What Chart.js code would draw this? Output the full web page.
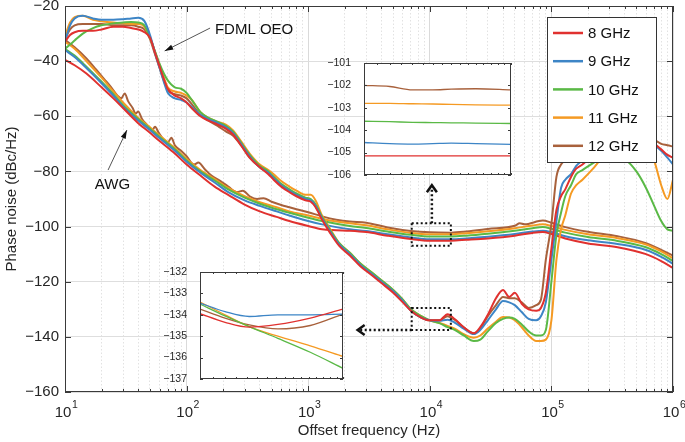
<!DOCTYPE html>
<html>
<head>
<meta charset="utf-8">
<title>Phase noise</title>
<script src="https://cdn.jsdelivr.net/npm/chart.js@4.4.1/dist/chart.umd.min.js"></script>
<style>
  body { margin: 0; background: #fff; }
  #wrap { position: relative; width: 685px; height: 442px; }
  canvas { position: absolute; }
</style>
</head>
<body>
<div id="wrap">
  <canvas id="main" width="685" height="442" style="left:0;top:0"></canvas>
  <canvas id="insetTop" width="190" height="126" style="left:325px;top:56px"></canvas>
  <canvas id="insetBottom" width="188" height="120" style="left:160px;top:265px"></canvas>
</div>
<script>
const FONT = "'Liberation Sans', Arial, Helvetica, sans-serif";
const TEXT = "#262626";

const labels = ["8 GHz", "9 GHz", "10 GHz", "11 GHz", "12 GHz"];
const colors = ["#e0312f", "#3d85c6", "#5ab946", "#f59a23", "#a8613c"];

// FDML OEO
const oeoFreq = [
  10, 11, 12, 14, 17, 20, 25, 30, 35, 40,
  45, 50, 55, 60, 65, 70, 80, 90, 100, 110,
  130, 150, 180, 210, 240, 280, 330, 400, 470, 520,
  600, 700, 800, 950, 1050, 1150, 1300, 1500, 1800, 2200,
  2700, 3300, 4000, 5000, 6000, 7000, 8500, 1e4, 1.2e4, 1.4e4,
  1.6e4, 1.9e4, 2.3e4, 2.6e4, 3e4, 3.5e4, 4e4, 4.5e4, 5e4, 5.7e4,
  6.5e4, 7.5e4, 8.2e4, 9e4, 1e5, 1.1e5, 1.2e5, 1.3e5, 1.45e5, 1.6e5,
  1.8e5, 2.2e5, 3e5, 4e5, 5e5, 6e5, 7e5, 8e5, 9e5, 1e6
];
const oeo8 = [
  -33, -30.5, -29.5, -29, -29, -28.5, -27.5, -27.5, -28, -28.5,
  -29.5, -31.5, -37, -42, -46.5, -50, -52.5, -53.5, -55, -57,
  -60, -61.5, -63, -64.5, -66.5, -70.5, -75, -78.5, -81, -83,
  -85.5, -87.5, -89, -90.5, -91, -93, -97.5, -102, -107, -110.5,
  -114.5, -117.5, -120.5, -124, -127.5, -130.5, -133, -134, -134, -131.8,
  -133.5, -136.5, -138.7, -136.5, -132, -126, -123, -125.5, -124, -128,
  -130, -130.5, -129.5, -124, -108, -94, -89, -86.5, -82, -79,
  -77.5, -74, -71, -69, -68.5, -69, -70, -72, -74, -75
];
const oeo9 = [
  -33, -27, -24.5, -23.5, -24.5, -25, -25, -24.8, -24.5, -24.3,
  -25.5, -30.5, -37, -42.5, -47.5, -51.5, -53.5, -54, -55, -56.5,
  -59.5, -61, -62.5, -64, -66, -70, -74.5, -78.5, -80.5, -82.5,
  -85, -87, -88.5, -90, -90.5, -92.5, -97, -101.5, -106.5, -110,
  -114, -117, -120, -123.5, -127, -130.5, -133, -134, -134.2, -133.8,
  -134.8, -137, -139, -137.5, -134, -130, -127, -127.5, -128.5, -131,
  -133.5, -134, -132.5, -127.5, -112, -98, -86, -83, -81, -78,
  -76, -73, -70, -69, -69, -69.5, -70.5, -72.5, -75, -77.5
];
const oeo10 = [
  -35.5, -34, -32.5, -30, -28, -27, -26.3, -26, -25.8, -26,
  -27, -31.5, -36.5, -41, -44.5, -47, -49.5, -50, -51.5, -54,
  -58.5, -60.5, -62, -63.5, -65.5, -69.5, -74, -78, -80, -82,
  -84.5, -86.5, -88, -89.5, -90, -92, -96.5, -101, -106, -109.5,
  -113.5, -116.5, -119.5, -123, -126.5, -130, -132.5, -134, -135, -136.5,
  -137.5, -139.5, -141.5, -141, -138, -135, -133.5, -133, -133.5, -135.5,
  -138, -139.5, -139.5, -137.5, -120, -103, -95, -89, -85, -81,
  -79.5, -77, -73.5, -75.5, -80, -86, -92.5, -98, -101, -101.5
];
const oeo11 = [
  -31, -26, -24, -23.5, -25, -25.5, -26, -26.3, -26.5, -26.5,
  -27.5, -31.5, -36.5, -41.5, -46, -49.5, -51, -51.5, -52.5, -54,
  -58.5, -60.5, -62, -63, -65, -69, -73.5, -77.5, -79.5, -81,
  -83.5, -85.5, -87, -88.5, -88.5, -90.5, -96, -100.5, -106, -109.5,
  -113.5, -116.5, -119.5, -123, -126.5, -130, -132.5, -134, -135, -136,
  -137, -139, -140.3, -139.5, -137, -134.5, -132.8, -133, -134, -136.5,
  -139.5, -141.5, -141.5, -141, -134, -112, -101, -96, -88, -85,
  -83, -79, -72, -70, -68, -68.5, -76, -85, -90, -83
];
const oeo12 = [
  -32, -28.5, -27, -26.5, -26.5, -26.5, -27, -27, -27, -27.5,
  -28.5, -32, -37.5, -42.5, -47, -50.5, -52, -52.5, -53.5, -55.5,
  -59.5, -61.5, -63.5, -65.5, -67, -70.5, -75, -78.5, -80.5, -82,
  -85, -87, -88.5, -90, -90.5, -92.5, -97, -101.5, -106.5, -110,
  -114, -117, -120, -123.5, -127, -130.5, -133, -134, -134, -132.5,
  -133.8, -136.5, -138.7, -137, -132.5, -128.5, -125.5, -126, -126, -127.5,
  -129.5, -128.5, -126.5, -112, -99, -82, -77.5, -76, -74, -73,
  -72, -70, -68, -67, -66.5, -67, -68.5, -70, -70.5, -71
];

// AWG
const awgFreq = [
  10, 12, 15, 20, 25, 30, 40, 50, 60, 80,
  100, 130, 170, 220, 300, 400, 550, 700, 1000, 1300,
  1700, 2200, 3000, 4500, 7000, 1e4, 1.5e4, 2e4, 3e4, 5e4,
  7e4, 8.5e4, 1e5, 1.3e5, 2e5, 3.5e5, 6e5, 8e5, 1e6
];
const awg8 = [
  -39.5, -41.5, -44.5, -49.5, -53.5, -57, -62.5, -66, -69, -73.5,
  -77.5, -81.5, -85.5, -88.5, -92, -94.5, -96.5, -98, -99.8, -101,
  -101.3, -101.5, -102, -103.3, -104.5, -105.1, -105.1, -104.8, -104.3, -103.3,
  -102.3, -102, -102.7, -104.3, -106.1, -107.5, -110, -112.5, -115
];
const awg9 = [
  -36, -38.5, -42.5, -48, -52.5, -56.5, -61.5, -65, -68, -72.5,
  -76.5, -80.5, -84, -87.5, -90.5, -92.5, -94.5, -96, -98, -99.2,
  -100.2, -101, -101.6, -102.8, -104, -104.6, -104.6, -104.3, -103.7, -102.7,
  -101.8, -101.5, -102, -103.5, -105, -106.3, -108.5, -111, -113.5
];
const awg10 = [
  -35.5, -38, -42, -47.5, -52, -56, -61, -64.5, -67.5, -72,
  -76, -80, -83.3, -86.5, -89.5, -91.7, -93.7, -95, -96.8, -98,
  -99, -99.8, -100.5, -101.8, -103, -103.6, -103.6, -103.3, -102.6, -101.5,
  -100.6, -100.2, -100.8, -102.2, -103.8, -105.2, -107.5, -110, -112.5
];
const awg11 = [
  -33, -35.5, -40, -46, -51, -55, -60.5, -64, -67, -71.5,
  -75.5, -79.5, -82.8, -86, -89, -91.2, -93, -94.5, -96, -97.2,
  -98.2, -98.8, -99.5, -101, -102.3, -102.8, -102.8, -102.4, -101.7, -100.6,
  -99.6, -99.2, -99.8, -101.2, -102.8, -104.2, -106.5, -109, -111.5
];
const awgFreq12 = [
  10, 12, 15, 18, 21, 24, 27, 29, 31, 33,
  36, 38, 40, 43, 47, 52, 55, 59, 65, 70,
  75, 80, 90, 100, 115, 125, 140, 160, 190, 220,
  260, 290, 330, 380, 430, 500, 600, 700, 800, 1000,
  1300, 1700, 2200, 3000, 4500, 7000, 1e4, 1.5e4, 2e4, 3e4,
  5e4, 5.5e4, 6e4, 8.5e4, 1e5, 1.3e5, 2e5, 3.5e5, 6e5, 8e5,
  1e6
];
const awg12 = [
  -32.3, -35, -39, -43, -46.5, -49.5, -52.5, -53.5, -51.7, -54.5,
  -57, -59, -58.3, -61, -63, -65, -63.8, -66, -68.5, -69.5,
  -67.8, -70.5, -72.5, -74.5, -77.5, -76.8, -79, -81.5, -83.5, -85.5,
  -87.5, -87, -89, -90, -89.7, -91, -92.2, -93, -93.7, -94.8,
  -96.3, -97.5, -98.2, -98.6, -100.3, -101.6, -102.1, -102.2, -101.8, -100.9,
  -99.7, -98.8, -99.2, -97.8, -98.6, -100.2, -101.9, -103.5, -106, -108.5,
  -110.5
];

// zoomed insets
const zoomTopFreq = [7000, 8000, 9000, 10000, 11000, 12500, 15000];
const zoomTop8 = [-105.15, -105.15, -105.15, -105.15, -105.15, -105.15, -105.15];
const zoomTop9 = [-104.55, -104.6, -104.62, -104.6, -104.58, -104.6, -104.63];
const zoomTop10 = [-103.6, -103.62, -103.65, -103.66, -103.67, -103.68, -103.7];
const zoomTop11 = [-102.8, -102.8, -102.82, -102.83, -102.85, -102.87, -102.88];
const zoomTop12 = [-102.0, -102.05, -102.2, -102.2, -102.17, -102.15, -102.2];

const zoomBotFreq = [7000, 8000, 9100, 10600, 12600, 15000];
const zoomBot8 = [-133.95, -134.35, -134.58, -134.45, -134.15, -133.73];
const zoomBot9 = [-133.45, -133.85, -134.08, -134.0, -134.0, -133.97];
const zoomBot10 = [-133.5, -134.05, -134.55, -135.1, -135.75, -136.5];
const zoomBot11 = [-133.4, -134.0, -134.55, -135.0, -135.45, -135.95];
const zoomBot12 = [-133.73, -134.15, -134.47, -134.66, -134.5, -133.97];

// axes
const xExps = [1, 2, 3, 4, 5, 6];
const yMin = -160, yMax = -20, yStep = 20;

// zoom markers and notes (data coords)
const zoomBoxes = [
  { f0: 7100, f1: 14900, top: -98.8, bottom: -107 },
  { f0: 7100, f1: 14900, top: -129.5, bottom: -137.5 }
];
const notes = [
  { text: "FDML OEO", f: 171, db: -28.7, from: [156, -28], to: [66, -36.3] },
  { text: "AWG", f: 17.6, db: -84.9, from: [22.6, -79.5], to: [32.3, -65] }
];

const isDecade = v => Math.abs(Math.log10(v) - Math.round(Math.log10(v))) < 1e-9;
const minusFmt = v => (v < 0 ? "\u2212" : "") + Math.abs(v);

const xGrid = [];
xExps.forEach(e => {
  if (e === 6) { xGrid.push(1e6); return; }
  for (let m = 1; m <= 9; m++) xGrid.push(m * Math.pow(10, e));
});

function line(label, color, xs, ys, w) {
  return {
    label, borderColor: color, backgroundColor: color, borderWidth: w,
    pointRadius: 0, fill: false, cubicInterpolationMode: "monotone",
    data: xs.map((x, i) => ({ x, y: ys[i] }))
  };
}

function arrow(ctx, x1, y1, x2, y2, head) {
  ctx.beginPath(); ctx.moveTo(x1, y1); ctx.lineTo(x2, y2); ctx.stroke();
  const a = Math.atan2(y2 - y1, x2 - x1);
  ctx.beginPath();
  ctx.moveTo(x2, y2);
  ctx.lineTo(x2 - head * Math.cos(a - 0.3), y2 - head * Math.sin(a - 0.3));
  ctx.lineTo(x2 - head * Math.cos(a + 0.3), y2 - head * Math.sin(a + 0.3));
  ctx.closePath(); ctx.fill();
}

const mainDecor = {
  id: "mainDecor",
  afterDatasetsDraw(chart) {
    const { ctx, chartArea: a, scales: { x, y } } = chart;
    ctx.save();

    // dotted zoom boxes + arrows
    ctx.strokeStyle = "#111"; ctx.lineWidth = 2; ctx.setLineDash([2, 2.5]);
    zoomBoxes.forEach(b => {
      const x0 = x.getPixelForValue(b.f0), x1 = x.getPixelForValue(b.f1);
      const y0 = y.getPixelForValue(b.top), y1 = y.getPixelForValue(b.bottom);
      ctx.strokeRect(x0, y0, x1 - x0, y1 - y0);
    });
    const ax = x.getPixelForValue(10400);
    const upY0 = y.getPixelForValue(zoomBoxes[0].top), upY1 = y.getPixelForValue(-85);
    ctx.lineWidth = 2.5;
    ctx.beginPath(); ctx.moveTo(ax, upY0); ctx.lineTo(ax, upY1 + 2); ctx.stroke();
    const ly = y.getPixelForValue(zoomBoxes[1].bottom);
    const lx0 = x.getPixelForValue(zoomBoxes[1].f0), lx1 = x.getPixelForValue(2550);
    ctx.beginPath(); ctx.moveTo(lx0, ly); ctx.lineTo(lx1 + 2, ly); ctx.stroke();
    ctx.setLineDash([]); ctx.lineWidth = 2.5;
    ctx.beginPath(); ctx.moveTo(ax - 5, upY1 + 7); ctx.lineTo(ax, upY1); ctx.lineTo(ax + 5, upY1 + 7); ctx.stroke();
    ctx.beginPath(); ctx.moveTo(lx1 + 7, ly - 5); ctx.lineTo(lx1, ly); ctx.lineTo(lx1 + 7, ly + 5); ctx.stroke();

    // notes with arrows
    ctx.font = "15px " + FONT; ctx.fillStyle = "#111"; ctx.textBaseline = "middle"; ctx.textAlign = "left";
    notes.forEach(n => {
      ctx.fillText(n.text, x.getPixelForValue(n.f), y.getPixelForValue(n.db));
      ctx.strokeStyle = "#555"; ctx.fillStyle = "#111"; ctx.lineWidth = 1;
      arrow(ctx, x.getPixelForValue(n.from[0]), y.getPixelForValue(n.from[1]),
        x.getPixelForValue(n.to[0]), y.getPixelForValue(n.to[1]), 9);
    });

    // legend box
    const lg = { x: 547, y: 17, w: 109, h: 145 };
    ctx.fillStyle = "#fff"; ctx.fillRect(lg.x, lg.y, lg.w, lg.h);
    ctx.strokeStyle = "#333"; ctx.lineWidth = 1;
    ctx.strokeRect(lg.x + 0.5, lg.y + 0.5, lg.w, lg.h);
    chart.data.datasets.slice(0, 5).forEach((ds, i) => {
      const cy = lg.y + 16 + i * 28.2;
      ctx.strokeStyle = ds.borderColor; ctx.lineWidth = 2.5;
      ctx.beginPath(); ctx.moveTo(lg.x + 6, cy); ctx.lineTo(lg.x + 36, cy); ctx.stroke();
      ctx.fillStyle = "#111"; ctx.font = "15px " + FONT;
      ctx.fillText(ds.label, lg.x + 41, cy + 1);
    });

    // frame and inward ticks
    ctx.strokeStyle = "#3a3a3a"; ctx.lineWidth = 1;
    ctx.strokeRect(a.left + 0.5, a.top + 0.5, a.width - 1, a.height - 1);
    ctx.beginPath();
    y.ticks.forEach(t => {
      const py = Math.round(y.getPixelForValue(t.value)) + 0.5;
      ctx.moveTo(a.left, py); ctx.lineTo(a.left + 6, py);
      ctx.moveTo(a.right, py); ctx.lineTo(a.right - 6, py);
    });
    x.ticks.forEach(t => {
      const px = Math.round(x.getPixelForValue(t.value)) + 0.5;
      const len = isDecade(t.value) ? 6 : 3;
      ctx.moveTo(px, a.bottom); ctx.lineTo(px, a.bottom - len);
      ctx.moveTo(px, a.top); ctx.lineTo(px, a.top + len);
    });
    ctx.stroke();

    // x tick labels as 10^n
    ctx.fillStyle = TEXT; ctx.textBaseline = "alphabetic"; ctx.textAlign = "left";
    xExps.forEach(e => {
      const px = x.getPixelForValue(Math.pow(10, e));
      ctx.font = "15px " + FONT;
      const w1 = ctx.measureText("10").width;
      ctx.font = "10.5px " + FONT;
      const w2 = ctx.measureText(String(e)).width;
      const sx = px - (w1 + w2) / 2 + 1;
      ctx.font = "15px " + FONT;
      ctx.fillText("10", sx, a.bottom + 25);
      ctx.font = "10.5px " + FONT;
      ctx.fillText(String(e), sx + w1 + 0.5, a.bottom + 16);
    });
    ctx.restore();
  }
};

const datasets = [];
const awgSets = [awg8, awg9, awg10, awg11, awg12];
const awgFreqs = [awgFreq, awgFreq, awgFreq, awgFreq, awgFreq12];
const oeoSets = [oeo8, oeo9, oeo10, oeo11, oeo12];
labels.forEach((l, i) => datasets.push(line(l, colors[i], oeoFreq, oeoSets[i], 2)));
labels.forEach((l, i) => datasets.push(line(l, colors[i], awgFreqs[i], awgSets[i], 2)));
// draw AWG underneath OEO
datasets.forEach((d, i) => { d.order = i < 5 ? 1 : 2; });

new Chart(document.getElementById("main"), {
  type: "line",
  data: { datasets },
  options: {
    responsive: false, animation: false,
    layout: { padding: { left: 0, right: 12, top: 6, bottom: 0 } },
    plugins: { legend: { display: false }, tooltip: { enabled: false } },
    scales: {
      x: {
        type: "logarithmic", min: 10, max: 1e6,
        afterBuildTicks: s => { s.ticks = xGrid.map(v => ({ value: v })); },
        afterFit: s => { s.height = 50; },
        ticks: { display: false },
        grid: { drawTicks: false, color: c => (c.tick && isDecade(c.tick.value)) ? "#dadada" : "#e2e2e2" },
        border: { display: false, dash: c => (c.tick && !isDecade(c.tick.value)) ? [1.5, 2] : [] },
        title: { display: true, text: "Offset frequency (Hz)", color: TEXT,
          font: { family: FONT, size: 15 }, padding: { top: 0, bottom: 2 } }
      },
      y: {
        min: yMin, max: yMax,
        afterFit: s => { s.width = 65; s.paddingTop = 0; s.paddingBottom = 0; },
        ticks: { stepSize: yStep, padding: 6, color: TEXT, font: { family: FONT, size: 15 }, callback: minusFmt },
        grid: { drawTicks: false, color: "#dedede" },
        border: { display: false },
        title: { display: true, text: "Phase noise (dBc/Hz)", color: TEXT,
          font: { family: FONT, size: 15 }, padding: { top: 3, bottom: 0 } }
      }
    }
  },
  plugins: [mainDecor]
});

const insetDecor = {
  id: "insetDecor",
  beforeDraw(chart) {
    const { ctx, chartArea: a } = chart;
    ctx.save(); ctx.fillStyle = "#fff";
    ctx.fillRect(a.left, a.top, a.width, a.height);
    ctx.restore();
  },
  afterDatasetsDraw(chart) {
    const { ctx, chartArea: a, scales: { x, y } } = chart;
    ctx.save();
    ctx.strokeStyle = "#3a3a3a"; ctx.lineWidth = 1;
    ctx.strokeRect(a.left + 0.5, a.top + 0.5, a.width - 1, a.height - 1);
    ctx.beginPath();
    y.ticks.forEach(t => {
      const py = Math.round(y.getPixelForValue(t.value)) + 0.5;
      ctx.moveTo(a.left, py); ctx.lineTo(a.left + 3, py);
      ctx.moveTo(a.right, py); ctx.lineTo(a.right - 3, py);
    });
    for (let f = 7000; f <= 15000; f += 500) {
      const px = Math.round(x.getPixelForValue(f)) + 0.5;
      ctx.moveTo(px, a.bottom); ctx.lineTo(px, a.bottom - 2);
      ctx.moveTo(px, a.top); ctx.lineTo(px, a.top + 2);
    }
    ctx.stroke();
    ctx.restore();
  }
};

function insetChart(id, freq, sets, lo, hi, padding, axisWidth) {
  return new Chart(document.getElementById(id), {
    type: "line",
    data: { datasets: sets.map((ys, i) => line(labels[i], colors[i], freq, ys, 1.3)) },
    options: {
      responsive: false, animation: false,
      layout: { padding },
      plugins: { legend: { display: false }, tooltip: { enabled: false } },
      scales: {
        x: { type: "logarithmic", min: freq[0], max: freq[freq.length - 1], display: false },
        y: {
          min: lo, max: hi,
          afterFit: s => { s.width = axisWidth; s.paddingTop = 0; s.paddingBottom = 0; },
          ticks: { stepSize: 1, padding: 5, color: TEXT, font: { family: FONT, size: 10.5 }, callback: minusFmt },
          grid: { display: false },
          border: { display: false }
        }
      }
    },
    plugins: [insetDecor]
  });
}

insetChart("insetTop", zoomTopFreq, [zoomTop8, zoomTop9, zoomTop10, zoomTop11, zoomTop12],
  -106, -101, { left: 0, right: 4, top: 7, bottom: 7 }, 39);
insetChart("insetBottom", zoomBotFreq, [zoomBot8, zoomBot9, zoomBot10, zoomBot11, zoomBot12],
  -137, -132, { left: 0, right: 5, top: 7, bottom: 6 }, 40);
</script>
</body>
</html>
